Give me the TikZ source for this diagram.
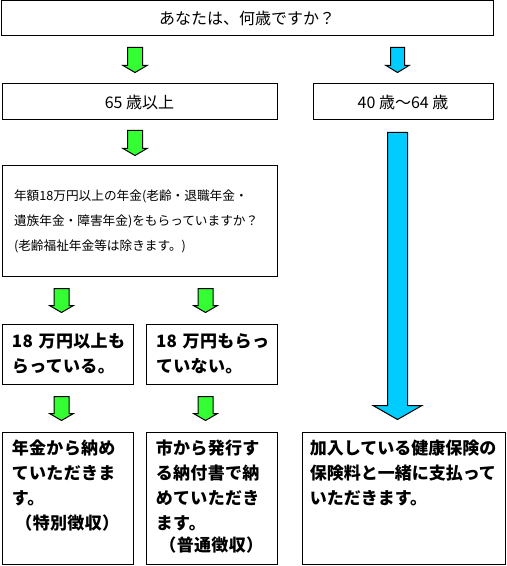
\documentclass[tikz,border=0pt]{standalone}
\usepackage{fontspec}
\newfontfamily\jp{Noto Sans CJK JP}
\newfontfamily\jpsp[LetterSpace=2]{Noto Sans CJK JP}
\usetikzlibrary{positioning, calc}
\definecolor{arrgreen}{RGB}{51,255,51}
\definecolor{arrblue}{RGB}{0,204,255}

\begin{document}
\begin{tikzpicture}[
		x=0.75pt, y=-0.75pt,
		box/.style={draw, rectangle, line width=0.75pt, inner sep=0pt, align=center, font=\jp\fontsize{12}{14}\selectfont},
		answer/.style={box, minimum width=98.25pt, minimum height=45pt, inner xsep=7.5pt, text width=83.25pt, align=left, font=\jpsp\bfseries\fontsize{12.75}{18.75}\selectfont},
		result/.style={box, minimum height=99pt},
		resulttext/.style={anchor=north west, inner sep=0pt, align=left, font=\jpsp\bfseries\fontsize{12.75}{18.75}\selectfont},
		blk/.style n args={4}{draw=black, line width=0.75pt, fill=#1, to path={
			($(\tikztostart)+(-#2,0)$) -- ($(\tikztostart)+(#2,0)$) -- ($(\tikztotarget)+(#2,-#4)$)
			-- ($(\tikztotarget)+(#3,-#4)$) -- (\tikztotarget) -- ($(\tikztotarget)+(-#3,-#4)$)
			-- ($(\tikztotarget)+(-#2,-#4)$) -- cycle}},
		greenarrow/.style={blk={arrgreen}{7.5}{12}{7}},
		bluearrow/.style={blk={arrblue}{7}{11.5}{7}},
		longarrow/.style={blk={arrblue}{10}{24.5}{14}},
	]
	\useasboundingbox (0,0) rectangle (506,566);

	\node[box, minimum width=369pt, minimum height=26.25pt] (ask) at (247,18.5) {あなたは、何歳ですか？};
	\node[box, minimum width=206.25pt, minimum height=27pt] (age65) at (139.5,102) {65 歳以上};
	\node[box, minimum width=135pt, minimum height=27pt] (age40) at (403,102) {40 歳～64 歳};

	\node[box, minimum width=206.25pt, minimum height=82.5pt, inner xsep=9pt, text width=188.25pt, align=left,
		font=\jp\fontsize{9.5}{18.75}\selectfont] (pq) at (139.5,221)
		{年額18万円以上の年金(老齢・退職年金・\\遺族年金・障害年金)をもらっていますか？\\(老齢福祉年金等は除きます。)};

	\node[answer] (yes) at (67.5,354) {18~万円以上も\\らっている。};
	\node[answer] (no) at (211.5,354) {18~万円もらっ\\ていない。};

	\node[result, minimum width=98.25pt] (tok) at (67.5,498) {};
	\node[result, minimum width=98.25pt] (fut) at (211.5,498) {};
	\node[result, minimum width=152.25pt] (ken) at (403.5,498) {};

	\node[resulttext, text width=83.25pt] (toktext) at ($(tok.north west)+(10,8)$)
		{年金から納め\\ていただきま\\す。\\\makebox[\linewidth]{（特別徴収）}};
	\node[resulttext, text width=83.25pt] (futtext) at ($(fut.north west)+(10,8)$)
		{市から発行す\\る納付書で納\\めていただき\\ます。\\[-2.25pt]\makebox[\linewidth]{（普通徴収）}};
	\node[resulttext, text width=141pt, font=\jp\bfseries\fontsize{12.75}{18.75}\selectfont] (kentext)
		at ($(ken.north west)+(8,8)$)
		{加入している健康保険の\\保険料と一緒に支払って\\いただきます。};

	% arrow ends
	\coordinate (g1s) at ($(ask.south -| age65.north)+(-4.5,11)$);
	\coordinate (g1e) at ($(age65.north)+(-4.5,-11)$);
	\coordinate (g2s) at ($(age65.south)+(-4.5,10)$);
	\coordinate (g2e) at ($(pq.north)+(-4.5,-10)$);
	\coordinate (g3s) at ($(pq.south -| yes.north)+(-6,12)$);
	\coordinate (g3e) at ($(yes.north)+(-6,-11)$);
	\coordinate (g4s) at ($(pq.south -| no.north)+(-6,12)$);
	\coordinate (g4e) at ($(no.north)+(-6,-11)$);
	\coordinate (g5s) at ($(yes.south)+(-6,12)$);
	\coordinate (g5e) at ($(tok.north)+(-6,-11)$);
	\coordinate (g6s) at ($(no.south)+(-6,12)$);
	\coordinate (g6e) at ($(fut.north)+(-6,-11)$);
	\coordinate (b1s) at ($(ask.south -| age40.north)+(-5.5,11)$);
	\coordinate (b1e) at ($(age40.north)+(-5.5,-11)$);
	\coordinate (b2s) at ($(age40.south)+(-5.5,12)$);
	\coordinate (b2e) at ($(ken.north)+(-6,-12)$);

	\foreach \i/\j in {g1s/g1e, g2s/g2e, g3s/g3e, g4s/g4e, g5s/g5e, g6s/g6e}
		\draw[greenarrow] (\i) to (\j);

	\draw[bluearrow] (b1s) to (b1e);
	\draw[longarrow] (b2s) to (b2e);
\end{tikzpicture}
\end{document}
